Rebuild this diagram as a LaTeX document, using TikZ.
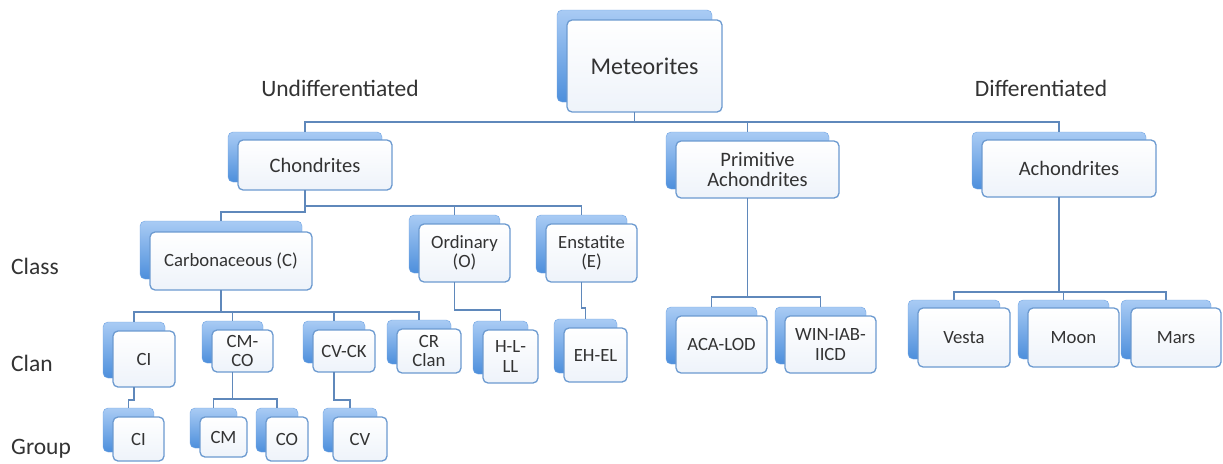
\documentclass[tikz,border=0pt]{standalone}
\usepackage{fontspec}
\setmainfont{Carlito}
\definecolor{connc}{HTML}{5F88BB}
\definecolor{boxline}{HTML}{6C9AD0}
\definecolor{cardtop}{HTML}{A9CBF4}
\definecolor{cardbot}{HTML}{4D8FDC}
\definecolor{boxfill}{HTML}{EEF3FA}
\definecolor{txt}{HTML}{333333}
\tikzset{
  cardback/.style={rectangle, rounded corners=5pt, inner sep=0pt, outer sep=0pt,
    top color=cardtop, bottom color=cardbot, draw=cardbot!80!white, line width=0.4pt},
  frontbox/.style={rectangle, rounded corners=5pt, inner sep=0pt, outer sep=0pt,
    top color=white, bottom color=boxfill, draw=boxline, line width=1.3pt,
    text=txt, align=center},
  lvla/.style={font=\fontsize{24}{24}\selectfont},
  lvlb/.style={font=\fontsize{20.5}{20.5}\selectfont},
  lvlc/.style={font=\fontsize{18.7}{19.5}\selectfont},
  conn/.style={draw=connc, line width=1.5pt},
  sidelabel/.style={font=\fontsize{23.5}{24}\selectfont, text=txt, inner sep=0pt}
}
\newcommand{\cardnode}[8][-9]{%
  \node[cardback, minimum width={#5-#3}, minimum height={#6-#4}] (#2s) at ({(#3+#5)/2-10},{(#4+#6)/2+#1}) {};
  \node[frontbox, #7, minimum width={#5-#3}, minimum height={#6-#4}] (#2) at ({(#3+#5)/2},{(#4+#6)/2}) {#8};
}
\begin{document}
\begin{tikzpicture}[x=1pt,y=-1pt]
\useasboundingbox (0,0) rectangle (1223,463);
\fill[white] (0,0) rectangle (1223,463);

% boxes
\cardnode[-10]{M}{567}{20}{722}{112}{lvla}{Meteorites}
\cardnode[-8]{Ch}{238}{140}{392}{190}{lvlb}{Chondrites}
\cardnode{PA}{676}{141}{839}{198}{lvlb}{Primitive\\Achondrites}
\cardnode[-8]{Ac}{982}{140}{1156}{197}{lvlb}{Achondrites}

\cardnode[-11]{Cb}{150}{232}{312}{290}{lvlc}{Carbonaceous (C)}
\cardnode{Or}{419}{224}{510}{282}{lvlc}{Ordinary\\(O)}
\cardnode{En}{546}{224}{637}{282}{lvlc}{Enstatite\\(E)}

\cardnode{CIc}{113}{331}{175}{387}{lvlc}{CI}
\cardnode{CMCO}{212}{330}{273}{372}{lvlc}{CM-\\CO}
\cardnode{CVCK}{313}{330}{375}{372}{lvlc}{CV-CK}
\cardnode{CR}{397}{329}{461}{373}{lvlc}{CR\\Clan}
\cardnode{HL}{483}{330}{538}{383}{lvlc}{H-L-\\LL}
\cardnode{EH}{564}{328}{627}{382}{lvlc}{EH-EL}

\cardnode{CIg}{113}{417}{164}{461}{lvlc}{CI}
\cardnode{CM}{200}{417}{247}{457}{lvlc}{CM}
\cardnode{CO}{266}{417}{308}{461}{lvlc}{CO}
\cardnode{CV}{333}{417}{387}{461}{lvlc}{CV}

\cardnode{ACA}{676}{316}{767}{373}{lvlc}{ACA-LOD}
\cardnode{WIN}{785}{316}{876}{373}{lvlc}{WIN-IAB-\\IICD}

\cardnode[-8]{Ve}{918}{308}{1010}{367}{lvlc}{Vesta}
\cardnode[-8]{Mo}{1028}{308}{1119}{367}{lvlc}{Moon}
\cardnode[-8]{Ma}{1131}{308}{1221}{367}{lvlc}{Mars}

% connectors
\begin{scope}[conn]
\draw (Ms.center |- M.south) -- ++(0,10) -| (Chs.north);
\draw (Ms.center |- M.south) -- ++(0,10) -| (PAs.north);
\draw (Ms.center |- M.south) -- ++(0,10) -| (Acs.north);

\draw (Chs.center |- Ch.south) -- ++(0,22) -| (Cbs.north);
\draw (Chs.center |- Ch.south) -- ++(0,16) -| (Ors.north);
\draw (Chs.center |- Ch.south) -- ++(0,16) -| (Ens.north);

\draw (Cbs.center |- Cb.south) -- ++(0,22) -| (CIcs.north);
\draw (Cbs.center |- Cb.south) -- ++(0,22) -| (CMCOs.north);
\draw (Cbs.center |- Cb.south) -- ++(0,22) -| (CVCKs.north);
\draw (Cbs.center |- Cb.south) -- ++(0,22) -| (CRs.north);

\draw (Ors.center |- Or.south) -- ++(0,28) -| (HLs.north);
\draw (Ens.center |- En.south) -- ++(0,26) -| (EHs.north);

\draw (CIcs.center |- CIc.south) -- ++(0,13) -| (CIgs.north);
\draw (CMCOs.center |- CMCO.south) -- ++(0,27) -| (CMs.north);
\draw (CMCOs.center |- CMCO.south) -- ++(0,27) -| (COs.north);
\draw (CVCKs.center |- CVCK.south) -- ++(0,28) -| (CVs.north);

\draw (PAs.center |- PA.south) -- ++(0,99) -| (ACAs.north);
\draw (PAs.center |- PA.south) -- ++(0,99) -| (WINs.north);

\draw (Acs.center |- Ac.south) -- ++(0,95) -| (Ves.north);
\draw (Acs.center |- Ac.south) -- ++(0,95) -| (Mos.north);
\draw (Acs.center |- Ac.south) -- ++(0,95) -| (Mas.north);
\end{scope}

% side labels
\node[sidelabel] (lUnd) at (340,88) {Undifferentiated};
\node[sidelabel] (lDiff) at (1041,88) {Differentiated};
\node[sidelabel, anchor=west] (lClass) at (11,266) {Class};
\node[sidelabel, anchor=west] (lClan) at (11,363) {Clan};
\node[sidelabel, anchor=west] (lGroup) at (11,449) {Group};
\end{tikzpicture}
\end{document}
